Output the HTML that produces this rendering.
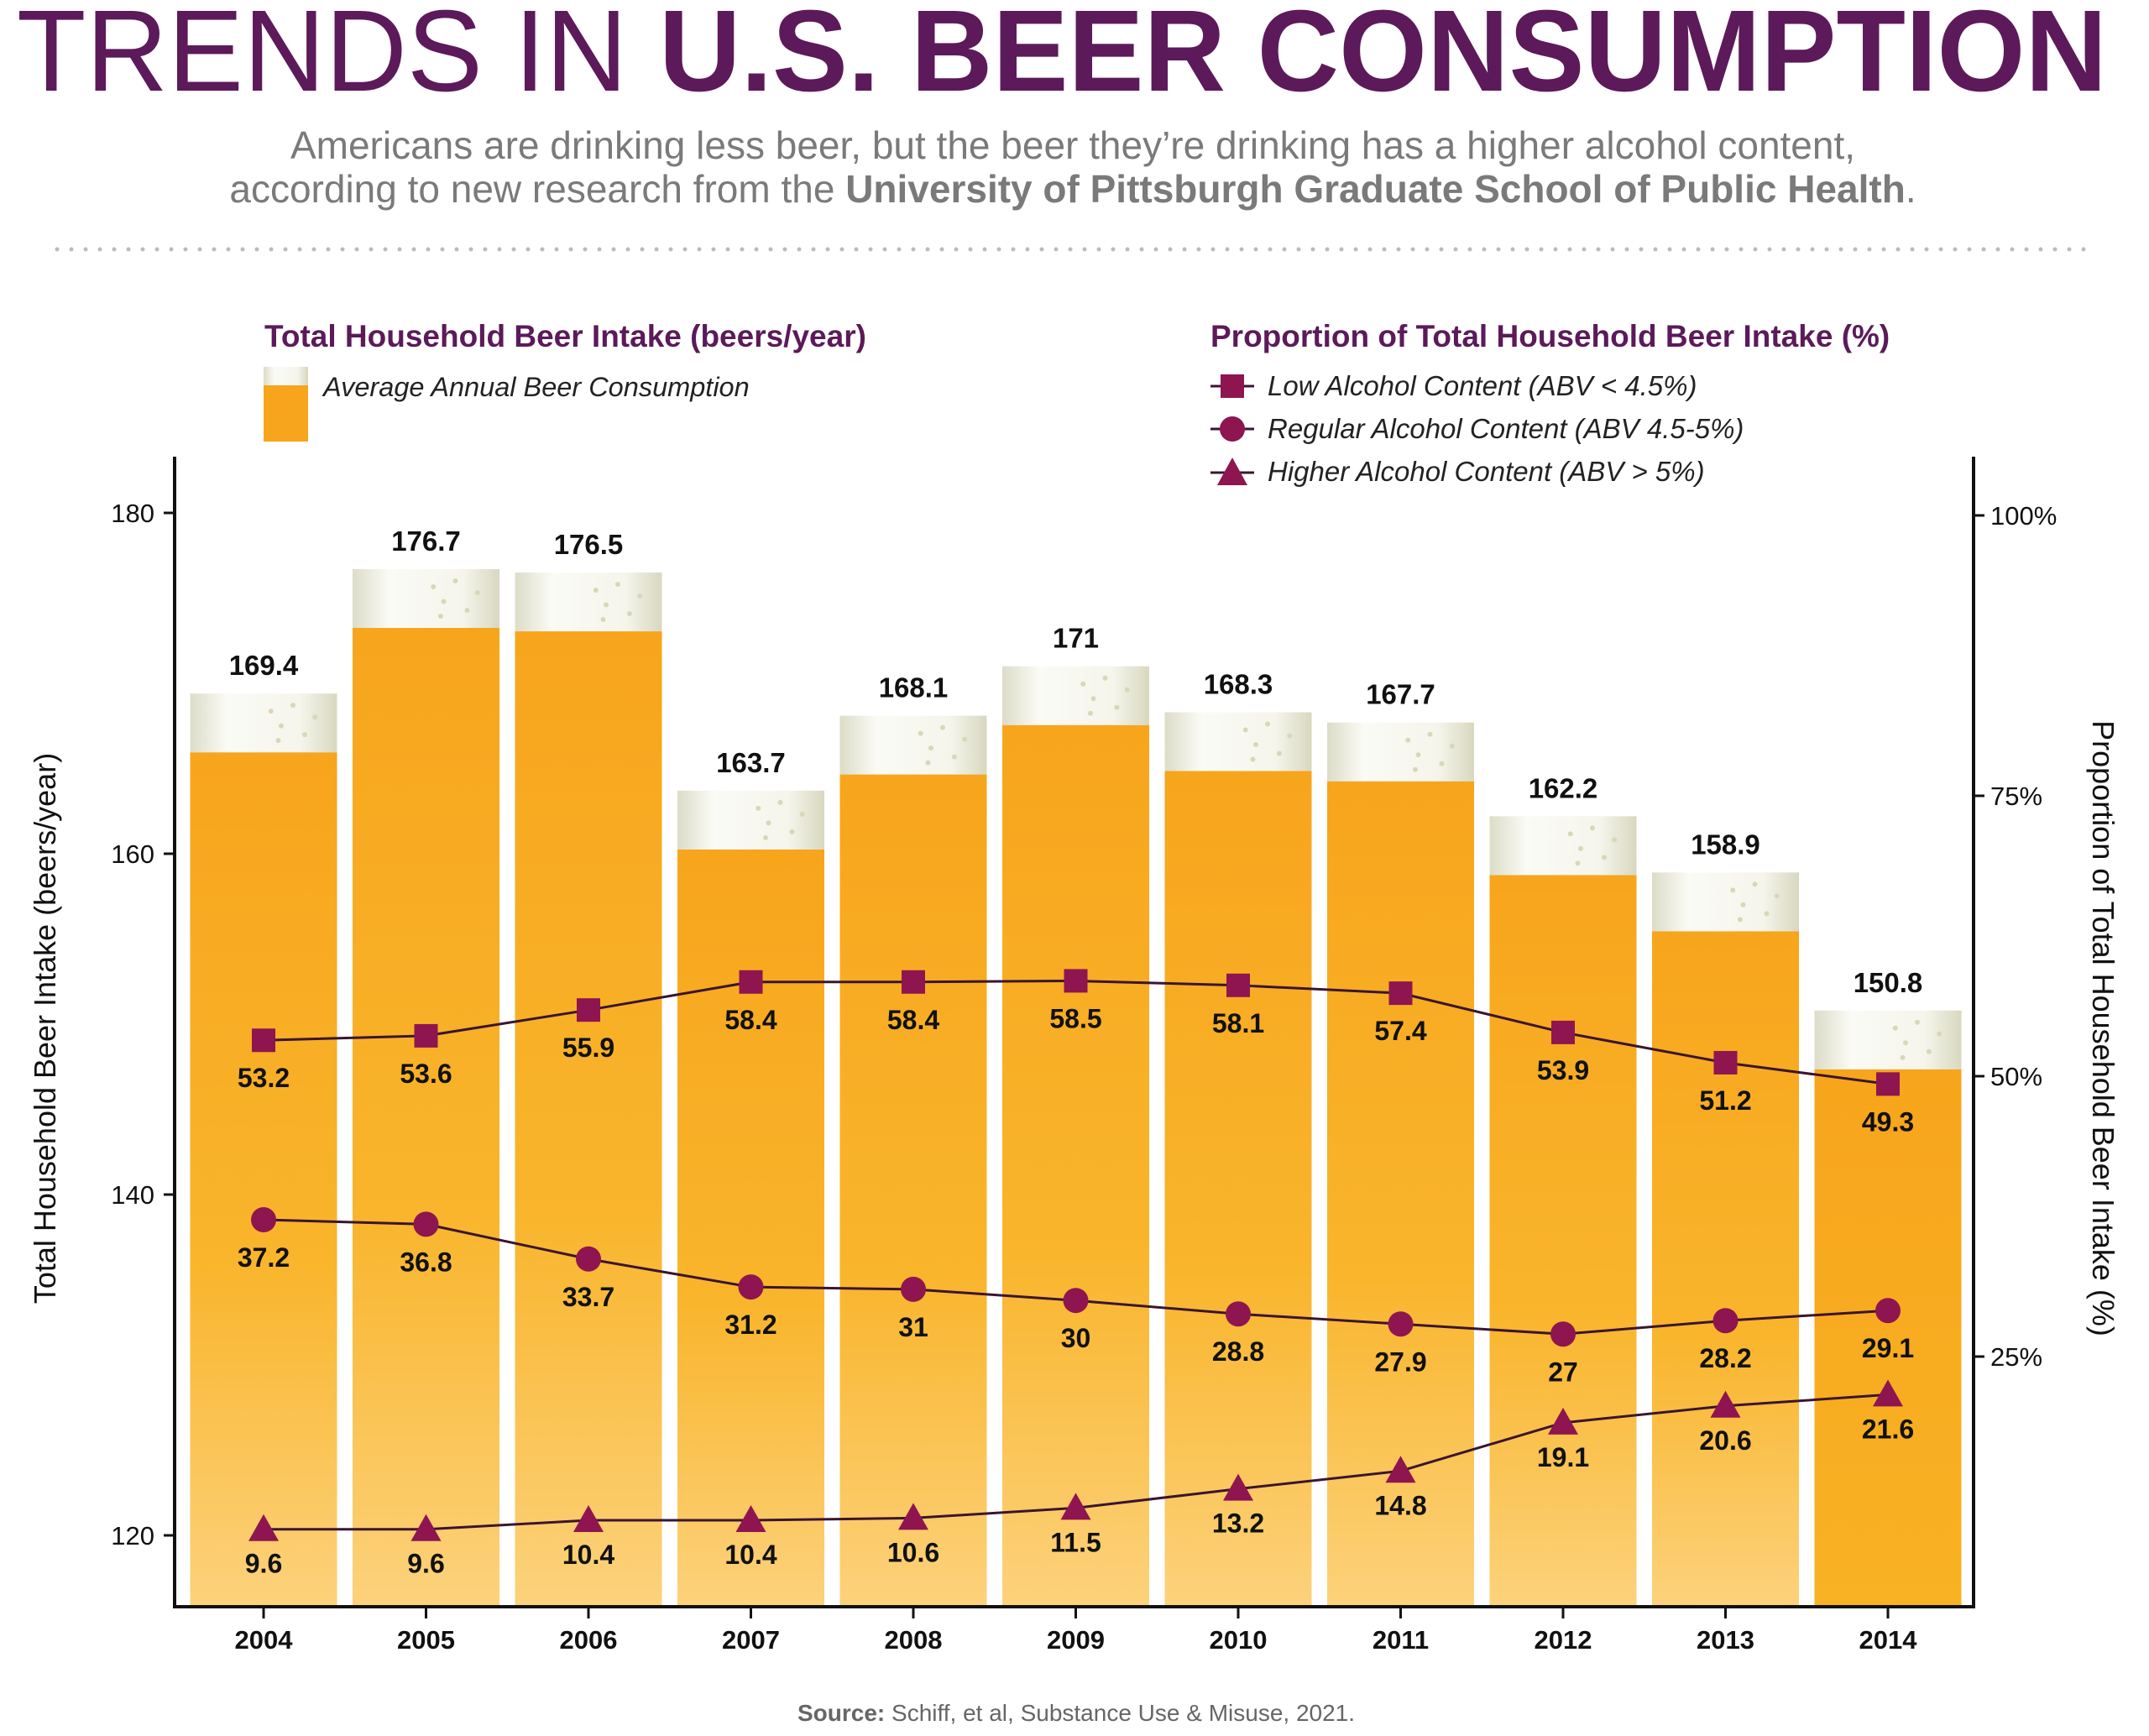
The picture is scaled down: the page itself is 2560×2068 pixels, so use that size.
<!DOCTYPE html>
<html><head><meta charset="utf-8">
<style>
html,body{margin:0;padding:0;background:#fff;}
body{width:2560px;height:2063px;overflow:hidden;font-family:"Liberation Sans",sans-serif;}
svg text{font-family:"Liberation Sans",sans-serif;}
</style></head>
<body>
<svg id="chart" width="2560" height="2063" viewBox="0 0 2560 2063" xmlns="http://www.w3.org/2000/svg">
<defs>
<linearGradient id="beer" x1="0" y1="0" x2="0" y2="1">
<stop offset="0" stop-color="#f7a51c"/><stop offset="0.6" stop-color="#f9b52c"/><stop offset="1" stop-color="#fcd27c"/>
</linearGradient>
<linearGradient id="beer2" x1="0" y1="0" x2="0" y2="1">
<stop offset="0" stop-color="#f7a51c"/><stop offset="1" stop-color="#f9b224"/>
</linearGradient>
<linearGradient id="foam" x1="0" y1="0" x2="1" y2="0">
<stop offset="0" stop-color="#dcdcc8"/><stop offset="0.25" stop-color="#fbfbf6"/><stop offset="0.75" stop-color="#f5f5ec"/><stop offset="1" stop-color="#d8d8c0"/>
</linearGradient>
</defs>
<text x="1265" y="108" text-anchor="middle" font-size="138" fill="#5c1a5a" textLength="2490" lengthAdjust="spacingAndGlyphs"><tspan style="font-weight:300">TRENDS IN </tspan><tspan font-weight="bold">U.S. BEER CONSUMPTION</tspan></text>
<text x="1278" y="189" text-anchor="middle" font-size="46" fill="#7a7a7a">Americans are drinking less beer, but the beer they’re drinking has a higher alcohol content,</text>
<text x="1278" y="241" text-anchor="middle" font-size="46" fill="#7a7a7a">according to new research from the <tspan font-weight="bold">University of Pittsburgh Graduate School of Public Health</tspan>.</text>
<line x1="68" y1="297" x2="2498" y2="297" stroke="#bbb" stroke-width="5" stroke-dasharray="0 17" stroke-linecap="round"/>

<text x="315" y="413" font-size="37" font-weight="bold" fill="#5c1a5a">Total Household Beer Intake (beers/year)</text>
<rect x="314" y="437" width="53" height="22" fill="url(#foam)"/>
<rect x="314" y="459" width="53" height="67" fill="#f7a51c"/>
<text x="385" y="472" font-size="32.5" font-style="italic" fill="#222">Average Annual Beer Consumption</text>

<text x="1442" y="413" font-size="37" font-weight="bold" fill="#5c1a5a">Proportion of Total Household Beer Intake (%)</text>
<g>
<line x1="1442" y1="460" x2="1494" y2="460" stroke="#3a1530" stroke-width="3"/>
<rect x="1454" y="446" width="28" height="28" fill="#8e1550"/>
<text x="1510" y="471" font-size="33" font-style="italic" fill="#222">Low Alcohol Content (ABV &lt; 4.5%)</text></g>
<g>
<line x1="1442" y1="511" x2="1494" y2="511" stroke="#3a1530" stroke-width="3"/>
<circle cx="1468" cy="511" r="15" fill="#8e1550"/>
<text x="1510" y="522" font-size="33" font-style="italic" fill="#222">Regular Alcohol Content (ABV 4.5-5%)</text></g>
<g>
<line x1="1442" y1="563" x2="1494" y2="563" stroke="#3a1530" stroke-width="3"/>
<polygon points="1468,545 1486,578 1450,578" fill="#8e1550"/>
<text x="1510" y="573" font-size="33" font-style="italic" fill="#222">Higher Alcohol Content (ABV &gt; 5%)</text></g>

<g id="bars"></g><g id="lines"></g><g id="axes"></g>

<text transform="translate(66,1225) rotate(-90)" text-anchor="middle" font-size="36" fill="#111">Total Household Beer Intake (beers/year)</text>
<text transform="translate(2493,1225) rotate(90)" text-anchor="middle" font-size="36" fill="#111">Proportion of Total Household Beer Intake (%)</text>
<text x="1282" y="2050" text-anchor="middle" font-size="28" fill="#666"><tspan font-weight="bold">Source:</tspan> Schiff, et al, Substance Use &amp; Misuse, 2021.</text>
</svg>
<script>
const years = ["2004","2005","2006","2007","2008","2009","2010","2011","2012","2013","2014"];
const totals = [169.4,176.7,176.5,163.7,168.1,171,168.3,167.7,162.2,158.9,150.8];
const lowPct = [53.2,53.6,55.9,58.4,58.4,58.5,58.1,57.4,53.9,51.2,49.3];
const regPct = [37.2,36.8,33.7,31.2,31,30,28.8,27.9,27,28.2,29.1];
const highPct = [9.6,9.6,10.4,10.4,10.6,11.5,13.2,14.8,19.1,20.6,21.6];
const leftTicks = [120,140,160,180];
const rightTicks = [25,50,75,100];

const NS="http://www.w3.org/2000/svg";
function mk(tag,attrs,parent,txt){const e=document.createElementNS(NS,tag);for(const k in attrs)e.setAttribute(k,attrs[k]);if(txt!==undefined)e.textContent=txt;parent.appendChild(e);return e;}
const X0=208,X1=2351,YB=1914,YT=544;
const xc=i=>314+i*193.5;
const yL=v=>611+(180-v)*20.3;
const yR=p=>614+(100-p)*13.36;
const bars=document.getElementById('bars'),lines=document.getElementById('lines'),axes=document.getElementById('axes');
const BW=175;
years.forEach((y,i)=>{
  const top=yL(totals[i]);
  const r=mk('rect',{x:xc(i)-BW/2,y:top+70,width:BW,height:YB-top-70,fill:i>=10?'url(#beer2)':'url(#beer)'},bars);
  
  
  const f=mk('rect',{x:xc(i)-BW/2,y:top,width:BW,height:70,fill:'url(#foam)'},bars);
  
  
  [[0.55,0.3],[0.62,0.55],[0.7,0.2],[0.78,0.7],[0.85,0.4],[0.6,0.8]].forEach(b=>{mk('circle',{cx:xc(i)-BW/2+BW*b[0],cy:top+70*b[1],r:3,fill:'#d8d8b8'},bars);});
  const t=mk('text',{x:xc(i),y:top-22,'text-anchor':'middle','font-size':33,'font-weight':'bold',fill:'#111'},bars,String(totals[i]));
  
  
});
function series(arr,name,shape,off){
  const pts=arr.map((v,i)=>xc(i)+','+yR(v)).join(' ');
  const pl=mk('polyline',{points:pts,fill:'none',stroke:'#3a1530','stroke-width':3},lines);
  
  
  arr.forEach((v,i)=>{
    const x=xc(i),y=yR(v);let m;
    if(shape==='sq')m=mk('rect',{x:x-14,y:y-14,width:28,height:28,fill:'#8e1550'},lines);
    else if(shape==='ci')m=mk('circle',{cx:x,cy:y,r:15,fill:'#8e1550'},lines);
    else m=mk('polygon',{points:`${x},${y-18} ${x+18},${y+14} ${x-18},${y+14}`,fill:'#8e1550'},lines);
    
    
    const t=mk('text',{x:x,y:y+off,'text-anchor':'middle','font-size':32,'font-weight':'bold',fill:'#111'},lines,String(v));
    
    
  });
}
series(lowPct,'low-alcohol','sq',56);
series(regPct,'regular-alcohol','ci',56);
series(highPct,'higher-alcohol','tr',52);
const la=mk('line',{x1:X0,y1:YT,x2:X0,y2:YB,stroke:'#111','stroke-width':4},axes);


const ra=mk('line',{x1:X1,y1:YT,x2:X1,y2:YB,stroke:'#111','stroke-width':4},axes);


const ba=mk('line',{x1:X0-2,y1:YB,x2:X1+2,y2:YB,stroke:'#111','stroke-width':4},axes);


leftTicks.forEach(v=>{const y=yL(v);mk('line',{x1:X0-13,y1:y,x2:X0,y2:y,stroke:'#111','stroke-width':3},axes);
  const t=mk('text',{x:X0-24,y:y+11,'text-anchor':'end','font-size':31,fill:'#111'},axes,String(v));
  
  });
rightTicks.forEach(v=>{const y=yR(v);mk('line',{x1:X1,y1:y,x2:X1+13,y2:y,stroke:'#111','stroke-width':3},axes);
  const t=mk('text',{x:X1+20,y:y+11,'font-size':31,fill:'#111'},axes,v+'%');
  
  });
years.forEach((y,i)=>{mk('line',{x1:xc(i),y1:YB,x2:xc(i),y2:YB+14,stroke:'#111','stroke-width':3},axes);
  const t=mk('text',{x:xc(i),y:YB+50,'text-anchor':'middle','font-size':31,'font-weight':'bold',fill:'#111'},axes,y);
  
  });
</script>
</body></html>
